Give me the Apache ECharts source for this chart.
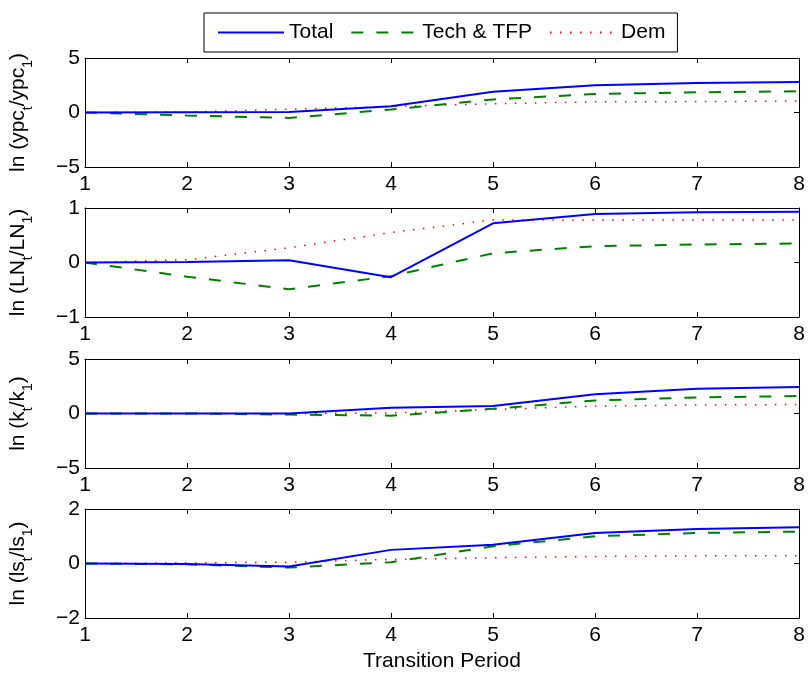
<!DOCTYPE html>
<html>
<head>
<meta charset="utf-8">
<script src="https://cdn.jsdelivr.net/npm/echarts@6/dist/echarts.min.js"></script>
<style>
  html, body { margin: 0; padding: 0; background: #fff; }
  #chart { width: 809px; height: 675px; }
</style>
</head>
<body>
<div id="chart"></div>
<script>
// transition periods (x axis)
var periods = [1, 2, 3, 4, 5, 6, 7, 8];
var seriesNames = ["Total", "Tech & TFP", "Dem"];

// ln(ypc_t / ypc_1)
var ypcTotal = [0, 0.02, 0.05, 0.57, 1.9, 2.5, 2.7, 2.8];
var ypcTech  = [0, -0.28, -0.5, 0.28, 1.2, 1.7, 1.85, 1.95];
var ypcDem   = [0, 0.05, 0.3, 0.55, 0.8, 0.98, 1.0, 1.05];

// ln(LN_t / LN_1)
var lnTotal = [0, 0.01, 0.04, -0.27, 0.72, 0.89, 0.92, 0.93];
var lnTech  = [0, -0.26, -0.49, -0.25, 0.17, 0.3, 0.33, 0.35];
var lnDem   = [0, 0.05, 0.27, 0.55, 0.78, 0.78, 0.78, 0.78];

// ln(k_t / k_1)
var kTotal = [0, 0, 0, 0.53, 0.68, 1.76, 2.28, 2.43];
var kTech  = [0, 0, -0.1, -0.2, 0.43, 1.2, 1.48, 1.6];
var kDem   = [0, 0, 0, 0.05, 0.37, 0.68, 0.78, 0.83];

// ln(ls_t / ls_1)
var lsTotal = [0, -0.02, -0.11, 0.5, 0.69, 1.12, 1.27, 1.33];
var lsTech  = [0, -0.03, -0.15, 0.05, 0.63, 1.0, 1.12, 1.17];
var lsDem   = [0, 0.02, 0.05, 0.15, 0.21, 0.26, 0.28, 0.28];

// y tick ranges per panel: [min, max, interval]
var yRanges = [[-5, 5, 5], [-1, 1, 1], [-5, 5, 5], [-2, 2, 2]];
var panelData = [
  [ypcTotal, ypcTech, ypcDem],
  [lnTotal, lnTech, lnDem],
  [kTotal, kTech, kDem],
  [lsTotal, lsTech, lsDem]
];
// y labels: [main, sub, main, sub, main]
var yNames = [
  ["ln (ypc", "t", "/ypc", "1", ")"],
  ["ln (LN", "t", "/LN", "1", ")"],
  ["ln (k", "t", "/k", "1", ")"],
  ["ln (ls", "t", "/ls", "1", ")"]
];

var FONT = "Liberation Sans, Arial, Helvetica, sans-serif";
var FS = 21;
var gridTops = [58, 208, 359, 509];
var gridHeight = 109;

var lineStyles = [
  { color: "#0000ff", width: 2, type: "solid" },
  { color: "#008000", width: 2, type: [12, 13] },
  { color: "#ff0000", width: 1.5, type: [1.5, 8.5] }
];

function minusFmt(v) {
  return String(v).replace("-", "\u2212");
}

var grids = [], xAxes = [], yAxes = [], series = [];

for (var i = 0; i < 4; i++) {
  grids.push({ left: 85, right: 10, top: gridTops[i], height: gridHeight });

  var n = yNames[i];
  xAxes.push({
    type: "value", gridIndex: i, min: 1, max: 8, interval: 1, position: "bottom",
    axisLine: { show: true, onZero: false, lineStyle: { color: "#000", width: 1 } },
    axisTick: { show: true, inside: true, length: 5, lineStyle: { color: "#000" } },
    axisLabel: { color: "#000", fontSize: FS, fontFamily: FONT, margin: 7 },
    splitLine: { show: false },
    name: i === 3 ? "Transition Period" : "",
    nameLocation: "middle",
    nameGap: 33,
    nameTextStyle: { color: "#000", fontSize: FS, fontFamily: FONT }
  });
  xAxes.push({
    type: "value", gridIndex: i, min: 1, max: 8, interval: 1, position: "top",
    axisLine: { show: true, onZero: false, lineStyle: { color: "#000", width: 1 } },
    axisTick: { show: true, inside: true, length: 5, lineStyle: { color: "#000" } },
    axisLabel: { show: false },
    splitLine: { show: false }
  });
  yAxes.push({
    type: "value", gridIndex: i, min: yRanges[i][0], max: yRanges[i][1], interval: yRanges[i][2],
    position: "left",
    axisLine: { show: true, onZero: false, lineStyle: { color: "#000", width: 1 } },
    axisTick: { show: true, inside: true, length: 5, lineStyle: { color: "#000" } },
    axisLabel: { color: "#000", fontSize: FS, fontFamily: FONT, margin: 5, formatter: minusFmt },
    splitLine: { show: false },
    name: "{m|" + n[0] + "}{s|" + n[1] + "}{m|" + n[2] + "}{s|" + n[3] + "}{m|" + n[4] + "}",
    nameLocation: "middle",
    nameGap: 50,
    nameTextStyle: {
      color: "#000", fontFamily: FONT,
      rich: {
        m: { fontSize: FS, fontFamily: FONT, color: "#000", lineHeight: 27, verticalAlign: "top" },
        s: { fontSize: 14, fontFamily: FONT, color: "#000", lineHeight: 27, verticalAlign: "bottom" }
      }
    }
  });
  yAxes.push({
    type: "value", gridIndex: i, min: yRanges[i][0], max: yRanges[i][1], interval: yRanges[i][2],
    position: "right",
    axisLine: { show: true, onZero: false, lineStyle: { color: "#000", width: 1 } },
    axisTick: { show: true, inside: true, length: 5, lineStyle: { color: "#000" } },
    axisLabel: { show: false },
    splitLine: { show: false }
  });

  for (var s = 0; s < 3; s++) {
    var pts = [];
    for (var k = 0; k < periods.length; k++) {
      pts.push([periods[k], panelData[i][s][k]]);
    }
    series.push({
      name: seriesNames[s],
      type: "line",
      xAxisIndex: i * 2,
      yAxisIndex: i * 2,
      data: pts,
      symbol: "none",
      silent: true,
      animation: false,
      lineStyle: lineStyles[s],
      itemStyle: { color: lineStyles[s].color },
      z: 10 - s
    });
  }
}

var myChart = echarts.init(document.getElementById("chart"), null, { renderer: "canvas" });
var option = {
  backgroundColor: "#fff",
  animation: false,
  legend: {
    data: seriesNames,
    left: 204,
    top: 13,
    orient: "horizontal",
    padding: [9, 12, 9, 13],
    itemWidth: 66,
    itemHeight: 20,
    itemGap: 17,
    borderColor: "#000",
    borderWidth: 1,
    backgroundColor: "#fff",
    selectedMode: false,
    itemStyle: { opacity: 0 },
    textStyle: { color: "#000", fontSize: FS, fontFamily: FONT }
  },
  grid: grids,
  xAxis: xAxes,
  yAxis: yAxes,
  series: series
};

myChart.setOption(option);
window.addEventListener("resize", function () {
  myChart.resize();
});
</script>
</body>
</html>
